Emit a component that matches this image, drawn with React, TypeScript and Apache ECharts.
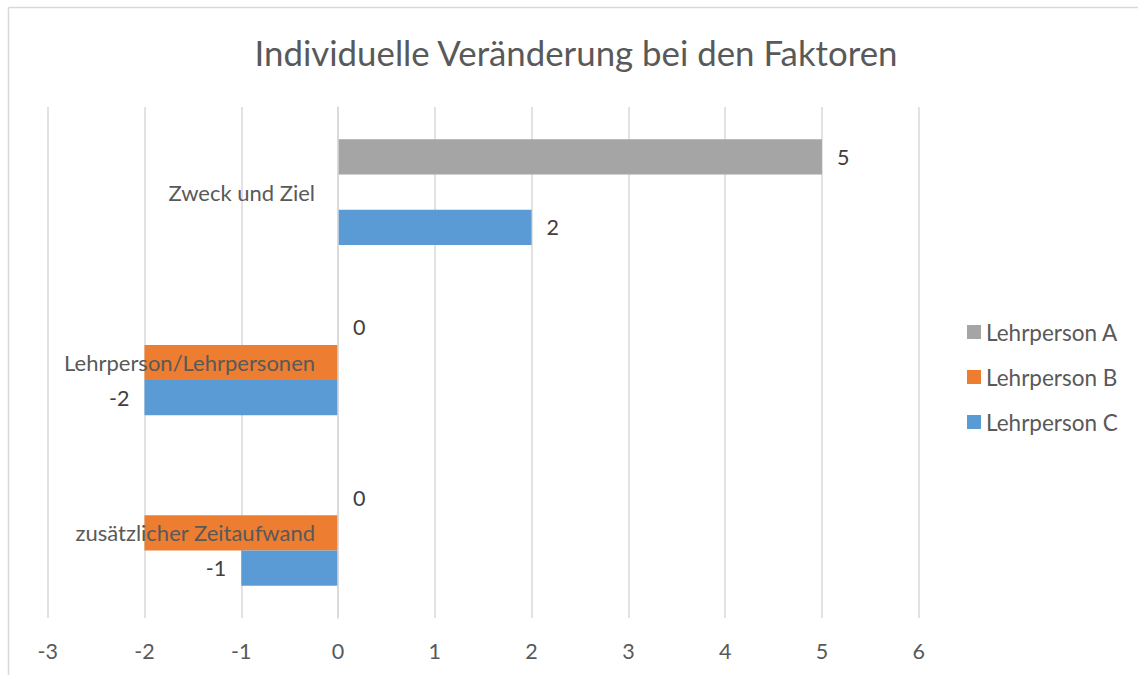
import React, { useEffect, useRef } from "react";
import * as echarts from "echarts";

const categories = ["Zweck und Ziel", "Lehrperson/Lehrpersonen", "zusätzlicher Zeitaufwand"];
const seriesNames = ["Lehrperson A", "Lehrperson B", "Lehrperson C"];
const valuesA = [5, 0, 0];
const valuesB = [0, -2, -2];
const valuesC = [2, -2, -1];
const colors = ["#a5a5a5", "#ed7d31", "#5b9bd5"];
const showLabels = [true, false, true];
const xTicks = { min: -3, max: 6, interval: 1 };
const titleText = "Individuelle Veränderung bei den Faktoren";

const FONT = "Lato, 'Open Sans', sans-serif";
const GRID_LEFT = 47.7;
const GRID_RIGHT = 219.3;
const CHART_W = 1138;

export default function App() {
  const ref = useRef<HTMLDivElement>(null);
  useEffect(() => {
    if (!ref.current) return;
    const chart = echarts.init(ref.current, undefined, { renderer: "svg" });
    const allValues = [valuesA, valuesB, valuesC];
    const series = allValues.map((vals, i) => ({
      name: seriesNames[i],
      type: "bar",
      barGap: "0%",
      barCategoryGap: "38%",
      itemStyle: { color: colors[i] },
      data: vals.map((v) => ({
        value: v,
        label: {
          show: showLabels[i],
          position: v < 0 ? "left" : "right",
          distance: 15,
          color: "#404040",
          fontSize: 21.5,
          fontFamily: FONT,
        },
      })),
    }));
    // place the category axis where the value axis crosses zero
    const plotW = CHART_W - GRID_LEFT - GRID_RIGHT;
    const zeroOffset = ((0 - xTicks.min) / (xTicks.max - xTicks.min)) * plotW;
    chart.setOption({
      animation: false,
      textStyle: { fontFamily: FONT },
      grid: {
        left: GRID_LEFT,
        right: GRID_RIGHT,
        top: 107,
        bottom: 57,
        containLabel: false,
        outerBoundsMode: "none",
      },
      graphic: [
        {
          type: "text",
          x: 576,
          y: 52,
          style: {
            text: titleText,
            fill: "#595959",
            fontSize: 34.8,
            fontFamily: FONT,
            textAlign: "center",
            textVerticalAlign: "middle",
          },
        },
        { type: "line", shape: { x1: 8.5, y1: 7.5, x2: 1138, y2: 7.5 }, style: { stroke: "#d9d9d9", lineWidth: 1.5 } },
        { type: "line", shape: { x1: 8.5, y1: 7.5, x2: 8.5, y2: 675 }, style: { stroke: "#d9d9d9", lineWidth: 1.5 } },
      ],
      legend: {
        orient: "vertical",
        left: 967,
        top: 320.5,
        padding: 0,
        itemWidth: 14,
        itemHeight: 14,
        itemGap: 22,
        icon: "rect",
        textStyle: { color: "#595959", fontSize: 22.5, fontFamily: FONT },
        data: seriesNames,
      },
      xAxis: {
        type: "value",
        min: xTicks.min,
        max: xTicks.max,
        interval: xTicks.interval,
        axisLine: { show: false },
        axisTick: { show: false },
        splitLine: { show: true, lineStyle: { color: "#d9d9d9", width: 1.5 } },
        axisLabel: { color: "#595959", fontSize: 21.5, fontFamily: FONT, margin: 22 },
      },
      yAxis: {
        type: "category",
        inverse: true,
        data: categories,
        z: 10,
        offset: -zeroOffset,
        axisLine: { show: true, onZero: false, lineStyle: { color: "#d9d9d9", width: 1.5 } },
        axisTick: { show: false },
        splitLine: { show: false },
        axisLabel: { color: "#595959", fontSize: 22, fontFamily: FONT, margin: 23 },
      },
      series,
    });
    return () => chart.dispose();
  }, []);
  return (
    <div
      ref={ref}
      style={{ position: "absolute", left: 0, top: 0, width: 1138, height: 675, background: "#fff" }}
    />
  );
}
